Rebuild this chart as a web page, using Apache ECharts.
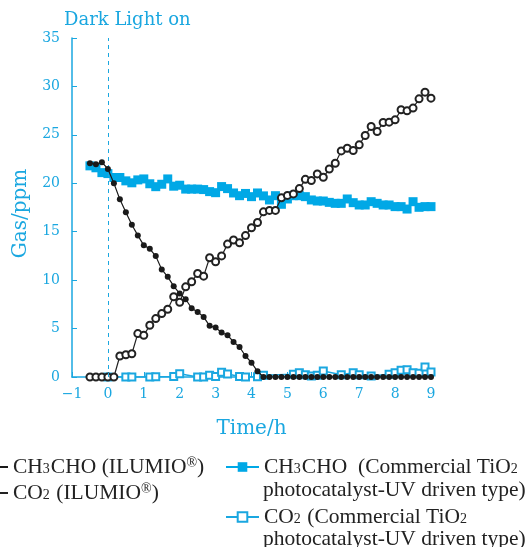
<!DOCTYPE html>
<html>
<head>
<meta charset="utf-8">
<script src="https://cdn.jsdelivr.net/npm/echarts@6/dist/echarts.min.js"></script>
<style>
html, body {margin: 0; padding: 0; background: #fff;}
#chart {width: 528px; height: 547px;}
</style>
</head>
<body>
<div id="chart"></div>
<script>
// time in hours, sampled every 10 min
var times = [-0.5, -0.333, -0.167, 0, 0.167, 0.333, 0.5, 0.667, 0.833, 1.0,
    1.167, 1.333, 1.5, 1.667, 1.833, 2.0, 2.167, 2.333, 2.5, 2.667,
    2.833, 3.0, 3.167, 3.333, 3.5, 3.667, 3.833, 4.0, 4.167, 4.333,
    4.5, 4.667, 4.833, 5.0, 5.167, 5.333, 5.5, 5.667, 5.833, 6.0,
    6.167, 6.333, 6.5, 6.667, 6.833, 7.0, 7.167, 7.333, 7.5, 7.667,
    7.833, 8.0, 8.167, 8.333, 8.5, 8.667, 8.833, 9.0];

var ilumioCH3CHO = [22.07, 21.97, 22.17, 21.48, 20.0, 18.34, 17.0, 15.72, 14.62, 13.59,
    13.24, 12.48, 11.1, 10.34, 9.38, 8.62, 8.03, 7.1, 6.72, 6.2,
    5.28, 5.1, 4.59, 4.31, 3.62, 3.1, 2.17, 1.48, 0.59, 0,
    0, 0, 0, 0, 0, 0, 0, 0, 0, 0,
    0, 0, 0, 0, 0, 0, 0, 0, 0, 0,
    0, 0, 0, 0, 0, 0, 0, 0];

var ilumioCO2 = [0, 0, 0, 0, 0, 2.17, 2.3, 2.4, 4.48, 4.3,
    5.34, 6.03, 6.55, 7.0, 8.28, 7.72, 9.31, 9.83, 10.69, 10.41,
    12.31, 11.9, 12.5, 13.72, 14.14, 13.86, 14.6, 15.41, 15.95, 17.05,
    17.2, 17.2, 18.5, 18.75, 18.9, 19.45, 20.41, 20.28, 20.97, 20.62,
    21.48, 22.07, 23.34, 23.62, 23.38, 23.97, 24.93, 25.86, 25.34, 26.28,
    26.31, 26.55, 27.59, 27.48, 27.76, 28.72, 29.41, 28.79];

var tioCH3CHO = [21.8, 21.6, 21.1, 21.0, 20.6, 20.6, 20.25, 20.05, 20.35, 20.45,
    19.95, 19.65, 19.9, 20.45, 19.7, 19.8, 19.4, 19.4, 19.4, 19.35,
    19.14, 19.03, 19.66, 19.45, 19.0, 18.72, 18.95, 18.62, 19.0, 18.7,
    18.28, 18.72, 17.83, 18.38, 18.72, 18.72, 18.62, 18.28, 18.17, 18.17,
    18.03, 17.93, 17.93, 18.38, 18.0, 17.76, 17.76, 18.1, 17.93, 17.76,
    17.76, 17.59, 17.59, 17.34, 18.1, 17.52, 17.59, 17.59];

// commercial TiO2 CO2 is only visible at some sampling times
var tioCO2Times = [0, 0.5, 0.667, 1.167, 1.333, 1.833, 2.0, 2.5, 2.667, 2.833,
    3.0, 3.167, 3.333, 3.667, 3.833, 4.167, 4.333, 5.167, 5.333, 5.5,
    5.667, 5.833, 6.0, 6.5, 6.833, 7.0, 7.333, 7.833, 8.0, 8.167,
    8.333, 8.5, 8.667, 8.833, 9.0];
var tioCO2 = [0, 0, 0, 0, 0.03, 0.05, 0.34, 0, 0, 0.17,
    0.05, 0.48, 0.31, 0.05, 0, 0.03, 0.17, 0.28, 0.45, 0.24,
    0.1, 0.17, 0.62, 0.24, 0.45, 0.24, 0.1, 0.28, 0.45, 0.7,
    0.75, 0.45, 0.38, 1.03, 0.52];

var xTicks = [-1, 0, 1, 2, 3, 4, 5, 6, 7, 8, 9];
var yTicks = [0, 5, 10, 15, 20, 25, 30, 35];

function pairs(xs, ys) {
    var out = [];
    for (var i = 0; i < xs.length; i++) out.push([xs[i], ys[i]]);
    return out;
}

var cyan = '#1aa7e0';
var serif = 'DejaVu Serif';
var textSerif = 'Liberation Serif';

var names = {
    a: 'CH3CHO (ILUMIO)',
    b: 'CO2 (ILUMIO)',
    c: 'CH3CHO (Commercial TiO2)',
    d: 'CO2 (Commercial TiO2)'
};
var legendText = {};
legendText[names.a] = 'CH{sub|3}CHO (ILUMIO{sup|®})';
legendText[names.b] = 'CO{sub|2} (ILUMIO{sup|®})';
legendText[names.c] = 'CH{sub|3}CHO  (Commercial TiO{sub|2}';
legendText[names.d] = 'CO{sub|2} (Commercial TiO{sub|2}';

var legendRich = {
    sub: {fontFamily: textSerif, fontSize: 14, color: '#222', verticalAlign: 'bottom', padding: [0, 1, 2, 0]},
    sup: {fontFamily: textSerif, fontSize: 14, color: '#222', verticalAlign: 'top'}
};
var legendBase = {
    orient: 'vertical',
    padding: 0,
    itemWidth: 33,
    itemHeight: 12,
    selectedMode: false,
    formatter: function (n) { return legendText[n]; },
    textStyle: {fontFamily: textSerif, fontSize: 21.5, color: '#222', lineHeight: 22, rich: legendRich}
};

var myChart = echarts.init(document.getElementById('chart'));
var option = {
    animation: false,
    title: {
        text: 'Dark Light on',
        left: 64,
        top: 11,
        padding: 0,
        textStyle: {fontFamily: serif, fontSize: 18, fontWeight: 'normal', color: cyan}
    },
    legend: [
        Object.assign({}, legendBase, {left: -26, top: 456, itemGap: 4, data: [names.a, names.b]}),
        Object.assign({}, legendBase, {left: 225, top: 456, itemGap: 28, data: [names.c, names.d]})
    ],
    graphic: [
        {type: 'text', left: 263, top: 479, style: {text: 'photocatalyst-UV driven type)', font: '21.5px "Liberation Serif"', fill: '#222'}},
        {type: 'text', left: 263, top: 528, style: {text: 'photocatalyst-UV driven type)', font: '21.5px "Liberation Serif"', fill: '#222'}}
    ],
    grid: {left: 72, right: 97, top: 38, bottom: 170},
    xAxis: {
        type: 'value',
        min: xTicks[0],
        max: xTicks[xTicks.length - 1],
        interval: 1,
        name: 'Time/h',
        nameLocation: 'middle',
        nameGap: 42,
        nameTextStyle: {fontFamily: serif, fontSize: 20, color: cyan},
        axisLine: {lineStyle: {color: cyan, width: 1.5}},
        axisTick: {inside: true, length: 5, lineStyle: {color: cyan}},
        axisLabel: {fontFamily: serif, fontSize: 14, color: cyan, margin: 10,
            formatter: function (v) { return v < 0 ? '\u2212' + Math.abs(v) : String(v); }},
        splitLine: {show: false}
    },
    yAxis: {
        type: 'value',
        min: yTicks[0],
        max: yTicks[yTicks.length - 1],
        interval: 5,
        name: 'Gas/ppm',
        nameLocation: 'middle',
        nameGap: 41,
        nameTextStyle: {fontFamily: serif, fontSize: 20, color: cyan, padding: [0, 12, 0, 0]},
        axisLine: {show: true, onZero: false, lineStyle: {color: cyan, width: 1.5}},
        axisTick: {show: true, inside: true, length: 5, lineStyle: {color: cyan}},
        axisLabel: {fontFamily: serif, fontSize: 14, color: cyan, margin: 12},
        splitLine: {show: false}
    },
    series: [
        {
            name: names.d,
            type: 'line',
            data: pairs(tioCO2Times, tioCO2),
            symbol: 'emptyRect',
            symbolSize: 7,
            color: cyan,
            lineStyle: {width: 1.5, color: cyan},
            itemStyle: {color: cyan, borderWidth: 1.3},
            z: 2,
            markLine: {
                silent: true,
                symbol: 'none',
                label: {show: false},
                lineStyle: {type: [4, 4], color: cyan, width: 1},
                data: [{xAxis: 0}]
            }
        },
        {
            name: names.c,
            type: 'line',
            data: pairs(times, tioCH3CHO),
            symbol: 'rect',
            symbolSize: 9,
            color: '#00a8e6',
            lineStyle: {width: 1.8, color: '#00a8e6'},
            itemStyle: {color: '#00a8e6'},
            z: 3
        },
        {
            name: names.b,
            type: 'line',
            data: pairs(times, ilumioCO2),
            symbol: 'emptyCircle',
            symbolSize: 7,
            color: '#222',
            lineStyle: {width: 1.2, color: '#222'},
            itemStyle: {color: '#222', borderWidth: 1},
            z: 4
        },
        {
            name: names.a,
            type: 'line',
            data: pairs(times, ilumioCH3CHO),
            symbol: 'circle',
            symbolSize: 6,
            color: '#1a1a1a',
            lineStyle: {width: 1.2, color: '#1a1a1a'},
            itemStyle: {color: '#1a1a1a'},
            z: 5
        }
    ]
};
myChart.setOption(option);
</script>
</body>
</html>
